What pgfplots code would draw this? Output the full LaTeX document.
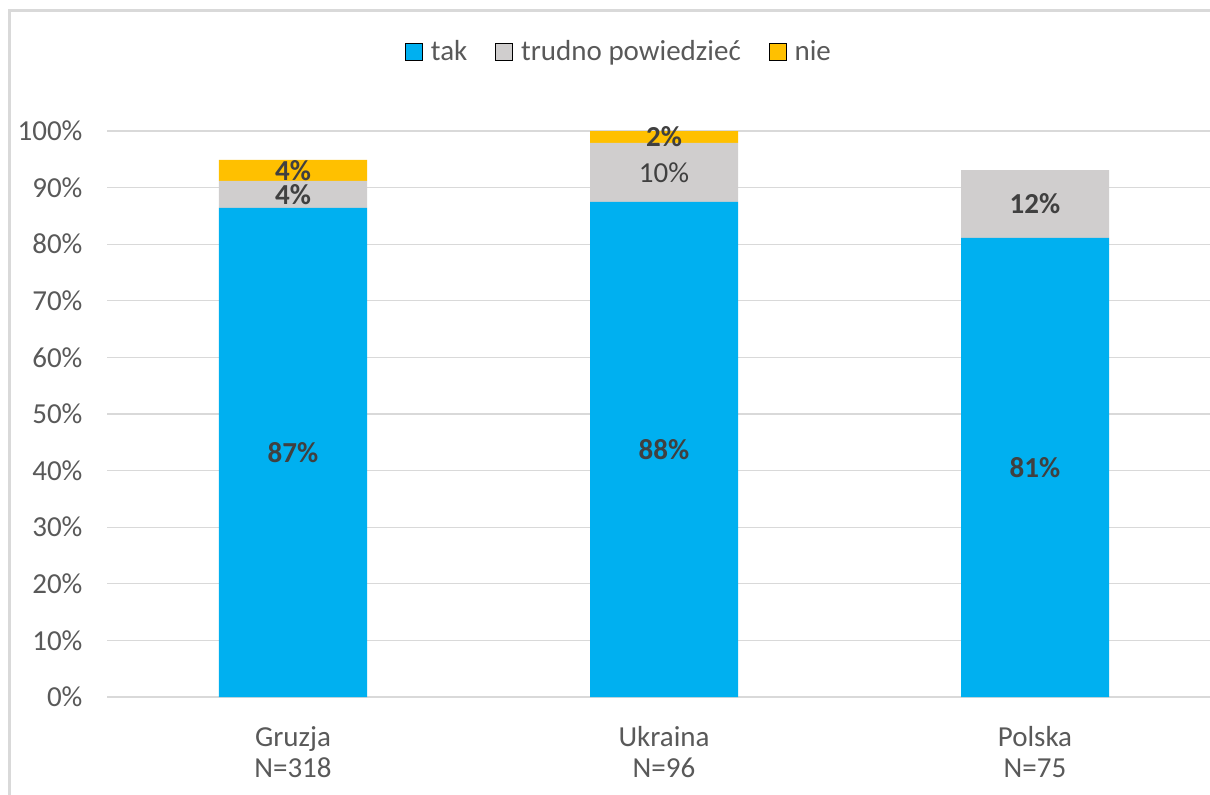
\documentclass[border=0pt]{standalone}
\usepackage{fontspec}
\setmainfont{Carlito}
\usepackage{pgfplots}
\pgfplotsset{compat=1.18}
\definecolor{tak}{HTML}{00B0F0}
\definecolor{trudno}{HTML}{D0CECE}
\definecolor{nie}{HTML}{FFC000}
\definecolor{txt}{HTML}{595959}
\definecolor{lbl}{HTML}{404040}
\definecolor{gridc}{HTML}{D9D9D9}
\newcommand{\fs}{\fontsize{14.5}{15.5}\selectfont}
\protected\def\md{\mdseries}
\begin{document}
\begin{tikzpicture}
\clip (-53.75pt,-48.5pt) rectangle (551.25pt,348.5pt);
\begin{axis}[
  scale only axis, width=556.5pt, height=283pt,
  xmin=-0.5, xmax=2.5, ymin=0, ymax=100,
  ybar stacked, bar width=74pt,
  clip=false,
  axis line style={draw=none},
  major tick length=0pt,
  ymajorgrids, grid style={gridc, line width=0.6pt},
  /pgf/number format/assume math mode=true,
  ytick={0,10,...,100},
  yticklabel={\pgfmathprintnumber{\tick}\%},
  yticklabel style={font=\fs, text=txt, xshift=-9pt},
  xtick={0,1,2},
  xticklabels={{Gruzja\\N=318},{Ukraina\\N=96},{Polska\\N=75}},
  xticklabel style={align=center, font=\fs, text=txt, yshift=-11pt},
  area legend,
  legend image post style={xscale=0.498, yscale=1.494, draw=none},
  legend style={at={(0.4605,1.1396)}, anchor=center, draw=none, fill=none,
    legend columns=-1, font=\fs, text=txt,
    /tikz/every odd column/.append style={column sep=2pt},
    /tikz/every even column/.append style={column sep=12pt}},
  point meta=explicit symbolic,
  nodes near coords={\pgfplotspointmeta},
  every node near coord/.append style={font=\fs\bfseries, text=lbl, anchor=center},
]
\addplot[fill=tak, draw=none] coordinates {(0,86.4)[87\%] (1,87.5)[88\%] (2,81.1)[81\%]};
\addlegendentry{tak}
\addplot[fill=trudno, draw=none] coordinates {(0,4.8)[4\%] (1,10.4)[\md 10\%] (2,12.0)[12\%]};
\addlegendentry{trudno powiedzieć}
\addplot[fill=nie, draw=none] coordinates {(0,3.7)[4\%] (1,2.1)[2\%]};
\addlegendentry{nie}
\end{axis}
\draw[gridc, line width=1.5pt] (-48.75pt,-60pt) -- (-48.75pt,343pt) -- (560pt,343pt);
\end{tikzpicture}
\end{document}
